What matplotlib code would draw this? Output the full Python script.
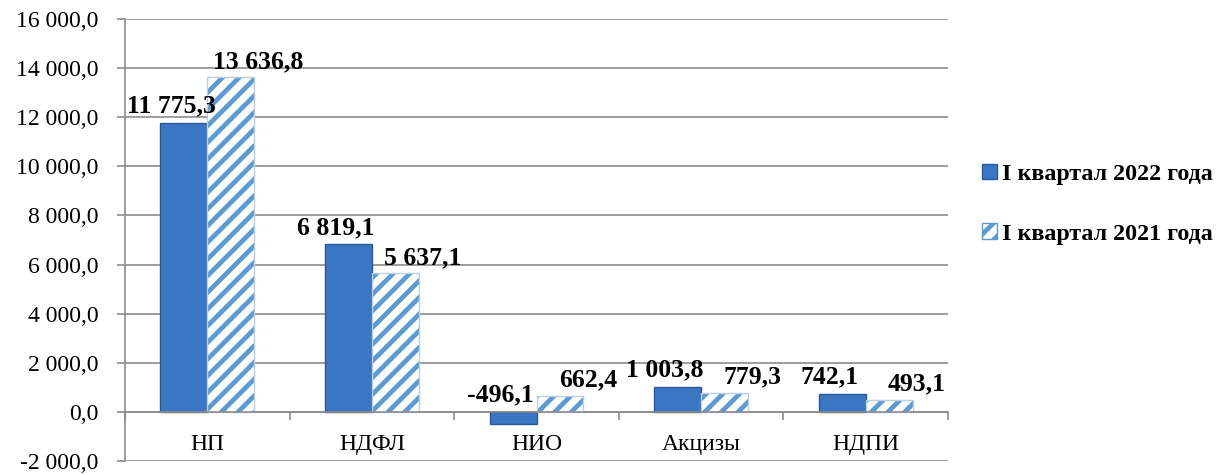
import matplotlib
matplotlib.use('Agg')
import matplotlib.pyplot as plt
import numpy as np
from matplotlib.patches import Patch
from matplotlib.ticker import FixedLocator, FuncFormatter

plt.rcParams['font.family'] = ['Liberation Serif', 'DejaVu Serif']
plt.rcParams['axes.unicode_minus'] = False
plt.rcParams['hatch.linewidth'] = 3.4

# data
categories = ['НП', 'НДФЛ', 'НИО', 'Акцизы', 'НДПИ']
q1_2022 = [11775.3, 6819.1, -496.1, 1003.8, 742.1]
q1_2021 = [13636.8, 5637.1, 662.4, 779.3, 493.1]
labels = ['I квартал 2022 года', 'I квартал 2021 года']


def fmt_num(v, pos=None):
    s = f"{v:,.1f}"
    return s.replace(',', ' ').replace('.', ',')


fig = plt.figure(figsize=(12.27, 4.75), dpi=100)
ax = fig.add_axes([0.1019, 0.0295, 0.6707, 0.9305])

x = np.arange(len(categories))
w = 0.285
solid_color = '#3a76c4'
hatch_color = '#5b9bd5'

bars1 = ax.bar(x - w / 2, q1_2022, w, color=solid_color, edgecolor='#2a5894',
               linewidth=1.0, zorder=3)
# hatched bars: hatch drawn with the edge colour, border drawn separately
bars2 = ax.bar(x + w / 2, q1_2021, w, color='white', edgecolor=hatch_color,
               linewidth=0, hatch='//', zorder=3)
ax.bar(x + w / 2, q1_2021, w, fill=False, edgecolor='#b9cfe8',
       linewidth=1.0, zorder=3)

ax.set_xlim(-0.5, len(categories) - 0.5)
ax.set_ylim(-2000, 16000)
ax.set_yticks(np.arange(-2000, 16001, 2000))
ax.yaxis.set_major_formatter(FuncFormatter(fmt_num))
ax.grid(True, axis='y', color='#8c8c8c', linewidth=1.2, zorder=0)
ax.set_axisbelow(True)

for side in ['top', 'right']:
    ax.spines[side].set_visible(False)
ax.spines['left'].set_color('#8c8c8c')
ax.spines['left'].set_linewidth(1.2)
ax.spines['bottom'].set_position(('data', 0))
ax.spines['bottom'].set_color('#8c8c8c')
ax.spines['bottom'].set_linewidth(1.2)
ax.spines['bottom'].set_zorder(4)

ax.set_xticks(x)
ax.set_xticklabels(categories)
ax.xaxis.set_minor_locator(FixedLocator(np.arange(-0.5, len(categories), 1.0)))
ax.tick_params(axis='x', which='major', length=0, pad=16, labelsize=17)
ax.tick_params(axis='x', which='minor', length=6, width=1.2, color='#8c8c8c',
               direction='out')
ax.tick_params(axis='y', length=6, width=1.2, color='#8c8c8c', pad=13,
               labelsize=17)

for b, v in zip(bars1, q1_2022):
    ax.annotate(fmt_num(v), xy=(b.get_x() + b.get_width() / 2, max(v, 0)),
                xytext=(-9, 4), textcoords='offset points', ha='center',
                va='bottom', fontsize=18.5, fontweight='bold', zorder=5)
for b, v in zip(bars2, q1_2021):
    ax.annotate(fmt_num(v), xy=(b.get_x() + b.get_width() / 2, max(v, 0)),
                xytext=(20, 3), textcoords='offset points', ha='center',
                va='bottom', fontsize=18.5, fontweight='bold', zorder=5)

handles = [Patch(facecolor=solid_color, edgecolor='#2a5894'),
           Patch(facecolor='white', edgecolor=hatch_color, hatch='//')]
fig.legend(handles, labels, loc='center left', bbox_to_anchor=(0.783, 0.57),
           frameon=False, handlelength=0.6, handleheight=0.6, handletextpad=0.2,
           labelspacing=1.6, prop={'weight': 'bold', 'size': 17.3})

plt.savefig('out.png', dpi=100)
